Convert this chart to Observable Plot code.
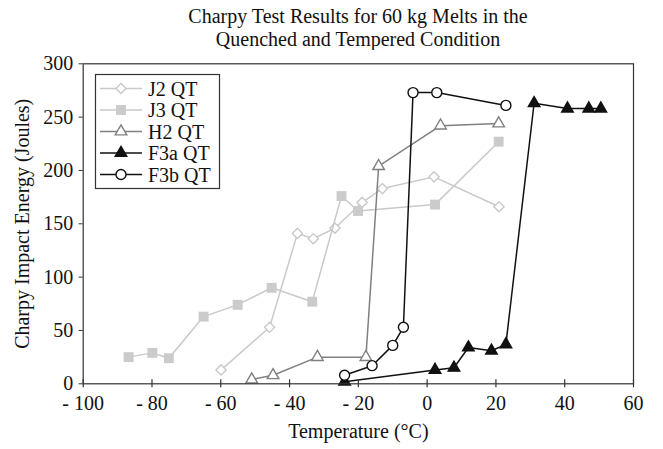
<!DOCTYPE html>
<html><head><meta charset="utf-8">
<script src="https://cdn.jsdelivr.net/npm/d3@7"></script>
<script src="https://cdn.jsdelivr.net/npm/@observablehq/plot@0.6"></script>
<style>
body{margin:0;background:#fff;}
#wrap{position:relative;width:663px;height:449px;font-family:"Liberation Serif","Times New Roman",serif;color:#111;}
#title{position:absolute;left:83px;width:550px;top:5px;text-align:center;font-size:20px;line-height:23px;}
#chart{position:absolute;left:0;top:50px;}
#legend{position:absolute;left:0;top:0;}
</style></head><body>
<div id="wrap">
<div id="title">Charpy Test Results for 60 kg Melts in the<br>Quenched and Tempered Condition</div>
<div id="chart"></div>
<svg id="legend" width="663" height="449"></svg>
</div>
<script>
const seriesNames = ["J2 QT", "J3 QT", "H2 QT", "F3a QT", "F3b QT"];

const j2Temp   = [-59.9, -45.8, -37.7, -33.1, -26.8, -18.9, -13.0, 2.0, 20.9];
const j2Energy = [13, 53, 141, 136, 146, 170, 183, 194, 166];

const j3Temp   = [-86.8, -79.9, -75.1, -65.0, -55.1, -45.2, -33.4, -24.9, -20.1, 2.3, 20.8];
const j3Energy = [25, 29, 24, 63, 74, 90, 77, 176, 162, 168, 227];

const h2Temp   = [-51.0, -44.8, -31.9, -17.8, -14.1, 3.9, 20.8];
const h2Energy = [4, 8, 25, 25, 204, 242, 244];

const f3aTemp   = [-24.0, 2.3, 7.8, 12.0, 18.7, 22.9, 31.1, 40.8, 47.0, 50.5];
const f3aEnergy = [2, 13, 15, 34, 31, 37, 263, 258, 258, 258];

const f3bTemp   = [-24.0, -16.0, -10.0, -6.9, -4.1, 2.8, 22.9];
const f3bEnergy = [8, 17, 36, 53, 273, 273, 261];

const xTicks = [-100, -80, -60, -40, -20, 0, 20, 40, 60];
const xTickLabels = ["- 100", "- 80", "- 60", "- 40", "- 20", "0", "20", "40", "60"];
const yTicks = [0, 50, 100, 150, 200, 250, 300];

const xTitle = "Temperature (°C)";
const yTitle = "Charpy Impact Energy (Joules)";

const styles = [
  {stroke: "#c9c9c9", mStroke: "#c9c9c9", fill: "#fff", symbol: d3.symbolDiamond2, r: 4.6},
  {stroke: "#c9c9c9", mStroke: "none", fill: "#cbcbcb", symbol: d3.symbolSquare, r: 5.6},
  {stroke: "#808080", mStroke: "#808080", fill: "#fff", symbol: d3.symbolTriangle, r: 4.3},
  {stroke: "#111", mStroke: "#111", fill: "#111", symbol: d3.symbolTriangle, r: 4.3},
  {stroke: "#111", mStroke: "#111", fill: "#fff", symbol: d3.symbolCircle, r: 5}
];

const temps = [j2Temp, j3Temp, h2Temp, f3aTemp, f3bTemp];
const energies = [j2Energy, j3Energy, h2Energy, f3aEnergy, f3bEnergy];
const series = seriesNames.map((name, i) => temps[i].map((t, k) => ({name, t, e: energies[i][k]})));

const W = 663, H = 399;
const marks = [];
series.forEach((rows, i) => {
  const s = styles[i];
  marks.push(Plot.line(rows, {x: "t", y: "e", stroke: s.stroke, strokeWidth: 1.5}));
  marks.push(Plot.dot(rows, {x: "t", y: "e", symbol: s.symbol, r: s.r, fill: s.fill, stroke: s.mStroke, strokeWidth: 1.4}));
});

const chart = Plot.plot({
  width: W, height: H,
  marginTop: 13.3, marginBottom: 65.7, marginLeft: 82.7, marginRight: 30,
  style: {fontFamily: "'Liberation Serif','Times New Roman',serif", fontSize: "20px", color: "#111", background: "#fff", overflow: "visible"},
  x: {domain: [-100, 60]},
  y: {domain: [0, 300]},
  marks: [
    ...marks,
    Plot.frame({stroke: "#333", strokeWidth: 1.2}),
    Plot.axisY(yTicks, {tickSize: 4, tickPadding: 6, fontSize: 20, label: null, stroke: "#333"}),
    Plot.axisX(xTicks, {tickSize: 0, tickPadding: 12, fontSize: 20, label: null, tickFormat: (d) => xTickLabels[xTicks.indexOf(d)]}),
    Plot.ruleX(xTicks, {x: d => d, y1: 0, y2: 0, insetTop: -4, insetBottom: -4, stroke: "#333", strokeWidth: 1.2}),
    Plot.text([xTitle], {frameAnchor: "bottom", dy: 54, fontSize: 20, fill: "#111", textAnchor: "middle"}),
    Plot.text([yTitle], {frameAnchor: "left", dx: -61, rotate: -90, fontSize: 20, fill: "#111", textAnchor: "middle"})
  ]
});
document.getElementById("chart").appendChild(chart);

// legend
const leg = d3.select("#legend");
leg.append("rect").attr("x", 95.5).attr("y", 74.5).attr("width", 124).attr("height", 114)
  .attr("fill", "#fff").attr("stroke", "#333").attr("stroke-width", 1.2);
seriesNames.forEach((name, i) => {
  const s = styles[i];
  const cy = 88.5 + i * 21.5;
  leg.append("line").attr("x1", 100).attr("x2", 142).attr("y1", cy).attr("y2", cy)
    .attr("stroke", s.stroke).attr("stroke-width", 1.5);
  leg.append("path").attr("d", d3.symbol(s.symbol, Math.PI * s.r * s.r)())
    .attr("transform", `translate(121,${cy})`)
    .attr("fill", s.fill).attr("stroke", s.mStroke).attr("stroke-width", 1.4);
  leg.append("text").attr("x", 148).attr("y", cy).attr("dy", "0.35em")
    .attr("font-size", 20).attr("fill", "#111").text(name);
});
</script>
</body></html>
